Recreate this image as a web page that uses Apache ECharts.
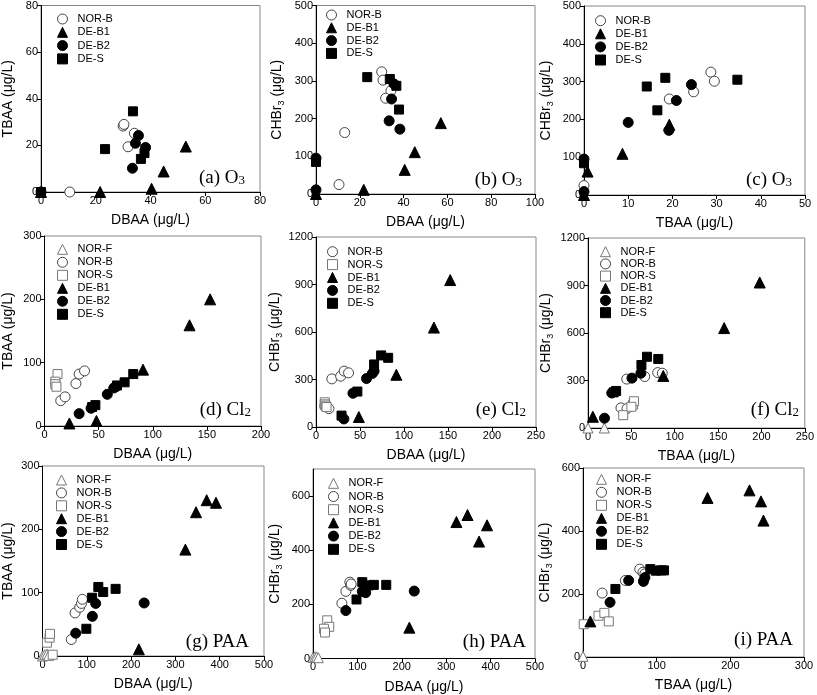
<!DOCTYPE html>
<html>
<head>
<meta charset="utf-8">
<script src="https://cdn.jsdelivr.net/npm/echarts@6/dist/echarts.min.js"></script>
<style>
	html, body { margin: 0; padding: 0; background: #fff; }
	#main { width: 817px; height: 695px; }
</style>
</head>
<body>
<div id="main"></div>
<script>
// (a) O3 : DBAA vs TBAA
var a_norB = [[10.5, 0], [30, 28.3], [30.3, 29], [34.1, 25.2], [31.8, 19.4]];
var a_deB1 = [[0, 0], [21.6, 0], [40.4, 1.4], [44.8, 8.8], [52.9, 19.5]];
var a_deB2 = [[0, 0], [33.4, 10.2], [34.5, 20.9], [35.6, 24.2], [38.2, 19.1]];
var a_deS = [[0, 0], [23.4, 18.4], [33.6, 34.6], [36.5, 14.2], [37.8, 16.7]];
// (b) O3 : DBAA vs CHBr3
var b_norB = [[30, 324], [30.6, 302], [34.2, 274], [31.8, 254], [13.1, 163], [10.5, 25]];
var b_deB1 = [[0, 0], [21.8, 11], [40.5, 64], [45.1, 111], [57, 188]];
var b_deB2 = [[0, 95], [0, 11], [34.5, 252], [33.4, 194], [38.3, 172], [35.6, 292]];
var b_deS = [[0, 85], [23.4, 310], [33.7, 305], [36.7, 287], [37.9, 224]];
// (c) O3 : TBAA vs CHBr3
var c_norB = [[0, 25], [19.3, 254], [24.8, 273], [28.7, 325], [29.5, 301]];
var c_deB1 = [[0, 0], [0.8, 62], [8.7, 109], [19.3, 186]];
var c_deB2 = [[0, 95], [0, 9], [10, 192], [19.2, 171], [20.9, 250], [24.3, 292]];
var c_deS = [[0, 84], [14.2, 287], [18.4, 310], [16.6, 224], [34.7, 305]];
// (d) Cl2 : DBAA vs TBAA
var d_norS = [[12, 82], [10, 70], [10, 66], [11, 62]];
var d_norB = [[15, 40], [19, 46], [29, 67], [32, 82], [37, 87]];
var d_deB1 = [[23, 4], [48, 8], [91, 89], [134, 159], [153, 200]];
var d_deB2 = [[32, 19.5], [43, 28], [58, 50], [64, 60], [66, 62]];
var d_deS = [[44, 30], [47, 33], [67, 64], [74, 69], [82, 82]];
// (e) Cl2 : DBAA vs CHBr3
var e_norB = [[18, 304], [28, 321], [32, 353], [37, 342], [14.7, 116], [10, 131]];
var e_norS = [[10, 156], [10, 143], [11, 135], [12, 126]];
var e_deB1 = [[48.7, 63], [91.3, 330], [134, 628], [152.5, 928]];
var e_deB2 = [[31.7, 51], [42, 213], [57.4, 306], [64, 338], [66, 353]];
var e_deS = [[29, 72], [47, 224], [66, 395], [74, 452], [82, 437]];
// (f) Cl2 : TBAA vs CHBr3
var f_norF = [[0, 0], [18.8, 0]];
var f_norB = [[44.7, 309], [65.4, 325], [80.4, 350], [85.7, 346], [38, 127], [45, 123]];
var f_norS = [[40.6, 81], [52, 148], [53, 169], [50, 134]];
var f_deB1 = [[5.6, 71], [86.8, 329], [157, 631], [198, 919]];
var f_deB2 = [[50.7, 315], [61, 346], [27.4, 221], [19, 62]];
var f_deS = [[68, 450], [81, 436], [61.6, 398], [32.4, 234], [29.6, 225]];
// (g) PAA : DBAA vs TBAA
var g_norF = [[0, 0], [5, 2], [10, 3], [14, 1]];
var g_norB = [[65, 26], [73.5, 68], [84, 77], [88, 83], [90, 89.5]];
var g_norS = [[10, 21], [16, 29], [17, 35], [23, 2]];
var g_deB1 = [[217.5, 10.5], [322.5, 168], [346.6, 227], [370.6, 246], [391.6, 242]];
var g_deB2 = [[75, 36], [112.5, 62.6], [120, 83], [229.5, 83.7]];
var g_deS = [[99, 43], [112, 92], [126, 109], [137, 101], [165, 106]];
// (h) PAA : DBAA vs CHBr3
var h_norF = [[0, 4], [4.5, 6], [8, 6], [12, 3]];
var h_norB = [[65, 204], [74, 248], [83, 282], [85, 270], [86, 275]];
var h_norS = [[32, 141], [36.5, 117], [24.6, 110], [27, 96]];
var h_deB1 = [[217, 114], [323, 504], [348, 530], [374, 432], [392, 492]];
var h_deB2 = [[74, 177], [111, 248], [118.6, 243], [228, 249]];
var h_deS = [[98, 218], [111, 282], [126, 270], [137, 272], [165, 272]];
// (i) PAA : TBAA vs CHBr3
var i_norF = [[0, 2]];
var i_norB = [[26, 203], [57.5, 243], [77, 279], [81.4, 269], [84, 264]];
var i_norS = [[1, 104], [21, 131], [29, 140], [35, 113]];
var i_deB1 = [[10, 113], [169, 505], [226, 529], [241.6, 494], [245, 433]];
var i_deB2 = [[36.7, 173.5], [62, 243], [82, 240], [84, 252]];
var i_deS = [[44, 216], [91.4, 279], [99, 274], [106, 275], [110, 275]];

var FONT = 'Liberation Sans';
var sty = {
	'NOR-F': { symbol: 'triangle', size: 10, color: '#fff', border: '#777' },
	'NOR-B': { symbol: 'circle', size: 10, color: '#fff', border: '#444' },
	'NOR-S': { symbol: 'rect', size: 9, color: '#fff', border: '#777' },
	'DE-B1': { symbol: 'triangle', size: 11, color: '#000', border: '#000' },
	'DE-B2': { symbol: 'circle', size: 10, color: '#000', border: '#000' },
	'DE-S': { symbol: 'rect', size: 9, color: '#000', border: '#000' }
};

// panel layout: plot box, axes, legend place (symbol centre x, first row centre y, row step), panel tag
var panels = [
	{ box: [41, 5, 260, 192], x: [0, 80, 20], y: [0, 80, 20], xn: 'DBAA', yn: 'TBAA', yg: 24, lg: [62, 19, 13.3], tag: '(a) O{s|3}', tp: [245, 178],
		series: [['NOR-B', a_norB], ['DE-B1', a_deB1], ['DE-B2', a_deB2], ['DE-S', a_deS]] },
	{ box: [316, 5, 535, 194], x: [0, 100, 20], y: [0, 500, 100], xn: 'DBAA', yn: 'CHBr', yg: 30, lg: [331, 15, 12.8], tag: '(b) O{s|3}', tp: [522, 180],
		series: [['NOR-B', b_norB], ['DE-B1', b_deB1], ['DE-B2', b_deB2], ['DE-S', b_deS]] },
	{ box: [584, 6, 805, 195], x: [0, 50, 10], y: [0, 500, 100], xn: 'TBAA', yn: 'CHBr', yg: 29, lg: [600, 20.7, 13.1], tag: '(c) O{s|3}', tp: [792, 180],
		series: [['NOR-B', c_norB], ['DE-B1', c_deB1], ['DE-B2', c_deB2], ['DE-S', c_deS]] },
	{ box: [40, 236, 261, 426], x: [0, 200, 50], y: [0, 300, 100], xn: 'DBAA', yn: 'TBAA', yg: 28, lg: [62, 249.3, 13], tag: '(d) Cl{s|2}', tp: [251, 410],
		series: [['NOR-F', []], ['NOR-B', d_norB], ['NOR-S', d_norS], ['DE-B1', d_deB1], ['DE-B2', d_deB2], ['DE-S', d_deS]] },
	{ box: [316, 237, 536, 427], x: [0, 250, 50], y: [0, 1200, 300], xn: 'DBAA', yn: 'CHBr', yg: 32, lg: [332, 251.7, 12.9], tag: '(e) Cl{s|2}', tp: [526, 410],
		series: [['NOR-B', e_norB], ['NOR-S', e_norS], ['DE-B1', e_deB1], ['DE-B2', e_deB2], ['DE-S', e_deS]] },
	{ box: [588, 238, 807, 428], x: [0, 250, 50], y: [0, 1200, 300], xn: 'TBAA', yn: 'CHBr', yg: 33, lg: [605, 251.7, 12.2], tag: '(f) Cl{s|2}', tp: [799, 410],
		series: [['NOR-F', f_norF], ['NOR-B', f_norB], ['NOR-S', f_norS], ['DE-B1', f_deB1], ['DE-B2', f_deB2], ['DE-S', f_deS]] },
	{ box: [42, 466, 264, 656], x: [0, 500, 100], y: [0, 300, 100], xn: 'DBAA', yn: 'TBAA', yg: 26, lg: [61, 480, 12.9], tag: '(g) PAA', tp: [249, 642],
		series: [['NOR-F', g_norF], ['NOR-B', g_norB], ['NOR-S', g_norS], ['DE-B1', g_deB1], ['DE-B2', g_deB2], ['DE-S', g_deS]] },
	{ box: [313, 469, 535, 660], x: [0, 500, 100], y: [0, 700, 200], xn: 'DBAA', yn: 'CHBr', yg: 29, lg: [333, 483.3, 13.2], tag: '(h) PAA', tp: [526, 642],
		series: [['NOR-F', h_norF], ['NOR-B', h_norB], ['NOR-S', h_norS], ['DE-B1', h_deB1], ['DE-B2', h_deB2], ['DE-S', h_deS]] },
	{ box: [583, 468, 804, 657], x: [0, 300, 100], y: [0, 600, 200], xn: 'TBAA', yn: 'CHBr', yg: 29, lg: [601, 479.3, 13], tag: '(i) PAA', tp: [793, 640],
		series: [['NOR-F', i_norF], ['NOR-B', i_norB], ['NOR-S', i_norS], ['DE-B1', i_deB1], ['DE-B2', i_deB2], ['DE-S', i_deS]] }
];

var nameRich = {
	m: { fontSize: 14, lineHeight: 17, fontFamily: FONT, color: '#000' },
	s: { fontSize: 9, lineHeight: 9, verticalAlign: 'bottom', fontFamily: FONT, color: '#000' }
};
function axisName(n) {
	if(n == 'CHBr') return '{m|CHBr}{s|3}{m| (μg/L)}';
	return '{m|' + n + ' (μg/L)}';
}
function ticksOf(r) {
	var t = [];
	for(var v = r[0]; v <= r[1]; v += r[2]) t.push(v);
	return t;
}

var ROW = 12; // legend row box height
var grid = [], xAxis = [], yAxis = [], legend = [], series = [], graphic = [];
panels.forEach(function(p, idx) {
	grid.push({
		left: p.box[0], top: p.box[1],
		width: p.box[2] - p.box[0], height: p.box[3] - p.box[1],
		show: true, borderColor: '#888', borderWidth: 1, backgroundColor: 'transparent'
	});
	var common = function(r, nm, gap) {
		return {
			type: 'value', gridIndex: idx, min: r[0], max: r[1], interval: r[2],
			name: axisName(nm), nameLocation: 'middle', nameGap: gap,
			nameTextStyle: { rich: nameRich },
			axisLine: { show: true, onZero: false, lineStyle: { color: '#000', width: 1 } },
			axisTick: { show: true, inside: false, length: 4, lineStyle: { color: '#000' }, customValues: ticksOf(r) },
			axisLabel: {
				fontFamily: FONT, fontSize: 11, color: '#000', margin: 3, customValues: ticksOf(r),
				formatter: function(v) { return String(v); }
			},
			splitLine: { show: false }
		};
	};
	xAxis.push(common(p.x, p.xn, 20));
	yAxis.push(common(p.y, p.yn, p.yg));
	var names = p.series.map(function(s) { return s[0]; });
	legend.push({
		orient: 'vertical', left: p.lg[0] - 5, top: p.lg[1] - ROW / 2, itemGap: p.lg[2] - ROW,
		itemWidth: 10, itemHeight: 10, padding: 0, selectedMode: false,
		data: names.map(function(n) { return { name: n, itemStyle: { color: sty[n].color, borderColor: sty[n].border, borderWidth: 1 } }; }),
		textStyle: { fontFamily: FONT, fontSize: 11, color: '#000', lineHeight: ROW, padding: [0, 0, 0, 5] }
	});
	p.series.forEach(function(s) {
		var st = sty[s[0]];
		series.push({
			type: 'scatter', name: s[0], xAxisIndex: idx, yAxisIndex: idx,
			symbol: st.symbol, symbolSize: st.size, data: s[1],
			itemStyle: { color: st.color, borderColor: st.border, borderWidth: 1, opacity: 1 },
			emphasis: { disabled: true }, animation: false
		});
	});
	graphic.push({
		type: 'text', x: p.tp[0], y: p.tp[1],
		style: {
			text: p.tag, align: 'right', verticalAlign: 'middle',
			fontFamily: 'Liberation Serif', fontSize: 19, fill: '#000',
			rich: { s: { fontFamily: 'Liberation Serif', fontSize: 13, lineHeight: 13, verticalAlign: 'bottom' } }
		}
	});
});

var myChart = echarts.init(document.getElementById('main'), null, { renderer: 'canvas' });
myChart.setOption({
	animation: false,
	backgroundColor: '#fff',
	grid: grid,
	xAxis: xAxis,
	yAxis: yAxis,
	legend: legend,
	series: series,
	graphic: graphic
});
</script>
</body>
</html>
